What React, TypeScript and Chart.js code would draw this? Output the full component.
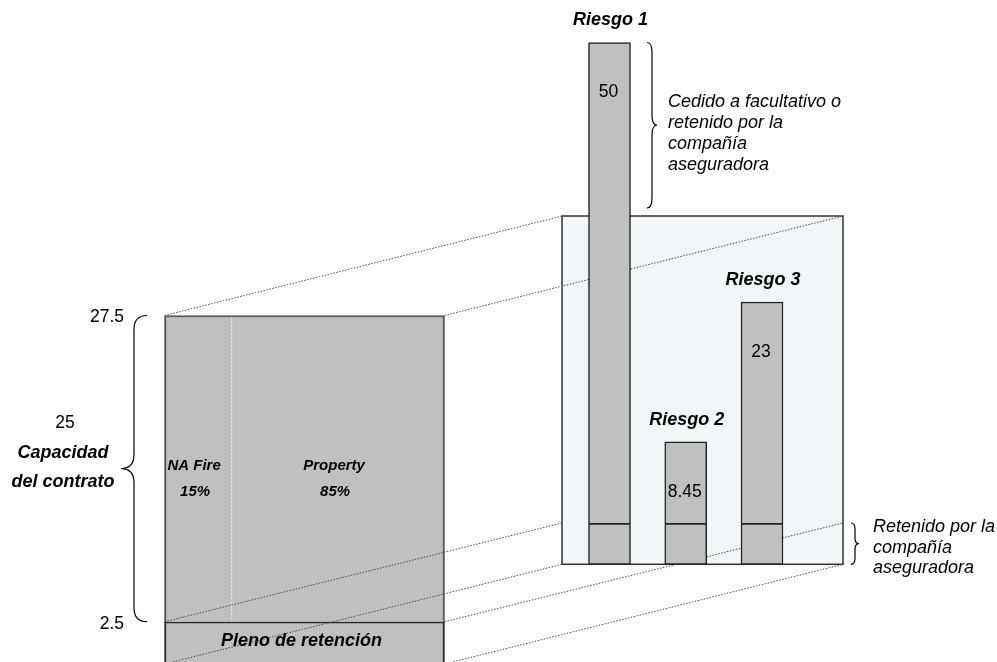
import React, { useEffect, useRef } from 'react';
import { Chart, registerables } from 'chart.js';

Chart.register(...registerables);

// ---- Datos del contrato ----
const PLENO = 2.5; // pleno de retención
const CAPACIDAD = 25; // capacidad del contrato por encima del pleno
const LINEAS = ['NA Fire', 'Property'];
const PARTICIPACION = [15, 85]; // % de cada línea
const MARCAS_EJE = [2.5, 27.5];

// ---- Riesgos ----
const RIESGOS = ['Riesgo 1', 'Riesgo 2', 'Riesgo 3'];
const CEDIDO = [50, 8.45, 23];

// ---- Maquetación ----
const W = 997;
const H = 662;
const FONT = '"Liberation Sans", Arial, Helvetica, sans-serif';
const SLOT_BLOQUE = 0;
const SLOT_RIESGOS = [4, 5, 6];
const GRIS = '#c0c0c0';
const PANEL = { left: 562, right: 843, top: 216, fill: '#f1f6f9' };
const DIVISION_LINEAS = 0.24; // posición del separador dentro del bloque

// Rango (min/max) de una escala lineal que sitúa dos valores en dos píxeles dados
function rango(size: number, pA: number, vA: number, pB: number, vB: number, vertical: boolean) {
  const b = (pB - pA) / (vB - vA);
  const a = pA - b * vA;
  return vertical ? { min: (size - a) / b, max: -a / b } : { min: -a / b, max: (size - a) / b };
}

function llave(ctx: CanvasRenderingContext2D, xEnd: number, xSpine: number, xTip: number, y1: number, y2: number, r: number) {
  const ym = (y1 + y2) / 2;
  ctx.beginPath();
  ctx.moveTo(xEnd, y1);
  ctx.quadraticCurveTo(xSpine, y1, xSpine, y1 + r);
  ctx.lineTo(xSpine, ym - r);
  ctx.quadraticCurveTo(xSpine, ym, xTip, ym);
  ctx.quadraticCurveTo(xSpine, ym, xSpine, ym + r);
  ctx.lineTo(xSpine, y2 - r);
  ctx.quadraticCurveTo(xSpine, y2, xEnd, y2);
  ctx.stroke();
}

function texto(ctx: CanvasRenderingContext2D, t: string, x: number, y: number, font: string, align: CanvasTextAlign = 'center') {
  ctx.font = font;
  ctx.textAlign = align;
  ctx.textBaseline = 'middle';
  ctx.fillStyle = '#000';
  ctx.fillText(t, x, y);
}

const diagrama = {
  id: 'diagrama',
  beforeDatasetsDraw(chart: any) {
    const ctx = chart.ctx as CanvasRenderingContext2D;
    const yRet = chart.scales.yRet;
    const bottom = yRet.getPixelForValue(0);
    ctx.save();
    ctx.fillStyle = PANEL.fill;
    ctx.fillRect(PANEL.left, PANEL.top, PANEL.right - PANEL.left, bottom - PANEL.top);
    ctx.strokeStyle = '#333';
    ctx.lineWidth = 1.5;
    ctx.strokeRect(PANEL.left, PANEL.top, PANEL.right - PANEL.left, bottom - PANEL.top);
    ctx.restore();
  },
  afterDatasetDraw(chart: any, args: any) {
    if (args.index !== 1) return;
    const ctx = chart.ctx as CanvasRenderingContext2D;
    const cap = chart.getDatasetMeta(1).data[0].getProps(['x', 'y', 'base', 'width'], true);
    const ple = chart.getDatasetMeta(0).data[0].getProps(['x', 'y', 'base', 'width'], true);
    const L = cap.x - cap.width / 2;
    const R = cap.x + cap.width / 2;
    const capTop = Math.min(cap.y, cap.base);
    const ret = Math.max(cap.y, cap.base);
    const bot = Math.max(ple.y, ple.base);
    const yRet = chart.scales.yRet;
    const pRet = yRet.getPixelForValue(PLENO);
    const pBot = yRet.getPixelForValue(0);

    ctx.save();
    // separador entre líneas de negocio
    ctx.strokeStyle = '#f6f6f6';
    ctx.lineWidth = 1;
    ctx.setLineDash([2, 2]);
    const xd = L + DIVISION_LINEAS * (R - L);
    ctx.beginPath();
    ctx.moveTo(xd, capTop + 2);
    ctx.lineTo(xd, ret);
    ctx.stroke();

    // líneas de proyección hacia el panel de riesgos
    const lineas: [number, number, number, number][] = [
      [L, capTop, PANEL.left, PANEL.top],
      [R, capTop, PANEL.right, PANEL.top],
      [L, ret, PANEL.left, pRet],
      [R, ret, PANEL.right, pRet],
      [L, bot, PANEL.left, pBot],
      [R, bot, PANEL.right, pBot],
    ];
    ctx.strokeStyle = '#4a4a4a';
    ctx.setLineDash([1.5, 1.5]);
    for (const [x1, y1, x2, y2] of lineas) {
      ctx.beginPath();
      ctx.moveTo(x1, y1);
      ctx.lineTo(x2, y2);
      ctx.stroke();
    }
    ctx.restore();
  },
  afterDatasetsDraw(chart: any) {
    const ctx = chart.ctx as CanvasRenderingContext2D;
    const yCap = chart.scales.yCap;
    const yPleno = chart.scales.yPleno;
    const yRet = chart.scales.yRet;
    const bold = (s: number) => `italic bold ${s}px ${FONT}`;
    const reg = (s: number) => `${s}px ${FONT}`;
    const ital = (s: number) => `italic ${s}px ${FONT}`;
    ctx.save();

    // marcas del eje izquierdo
    MARCAS_EJE.forEach((v) => texto(ctx, String(v), 124, yCap.getPixelForValue(v) + 2, reg(17.5), 'right'));

    // llave de la capacidad
    const yTop = yCap.getPixelForValue(PLENO + CAPACIDAD);
    const yBase = yCap.getPixelForValue(PLENO);
    const yMid = (yTop + yBase) / 2;
    ctx.strokeStyle = '#000';
    ctx.lineWidth = 1.2;
    llave(ctx, 147, 134, 121, yTop, yBase, 14);
    texto(ctx, String(CAPACIDAD), 65, yMid - 45, reg(17.5));
    texto(ctx, 'Capacidad', 63, yMid - 16, bold(18));
    texto(ctx, 'del contrato', 63, yMid + 13, bold(18));

    // líneas de negocio dentro del bloque
    const cap = chart.getDatasetMeta(1).data[0].getProps(['x', 'width'], true);
    const L = cap.x - cap.width / 2;
    const R = cap.x + cap.width / 2;
    const xd = L + DIVISION_LINEAS * (R - L);
    const centros = [(L + xd) / 2, (xd + R) / 2];
    LINEAS.forEach((n, i) => {
      texto(ctx, n, centros[i] - 4, yMid - 3, bold(15));
      texto(ctx, `${PARTICIPACION[i]}%`, centros[i] - 3, yMid + 23, bold(15));
    });

    // pleno de retención
    texto(ctx, 'Pleno de retención', cap.x - 3, yPleno.getPixelForValue(PLENO) + 19, bold(18));

    // riesgos
    const meta = chart.getDatasetMeta(3);
    meta.data.forEach((el: any, i: number) => {
      const p = el.getProps(['x', 'y', 'base'], true);
      const top = Math.min(p.y, p.base);
      texto(ctx, RIESGOS[i], p.x + 1, top - 22, bold(18));
      texto(ctx, String(CEDIDO[i]), p.x - 1, top + 50, reg(17.5));
    });

    // llave de lo cedido a facultativo
    const r1 = meta.data[0].getProps(['x', 'y', 'width'], true);
    const y1 = r1.y;
    const y2 = PANEL.top - 8;
    llave(ctx, 647, 652, 657, y1, y2, 10);
    const ym1 = (y1 + y2) / 2;
    ['Cedido a facultativo o', 'retenido por la', 'compañía', 'aseguradora'].forEach((t, i) =>
      texto(ctx, t, 668, ym1 - 23 + i * 21, ital(18), 'left')
    );

    // llave de lo retenido
    const pRet = yRet.getPixelForValue(PLENO);
    const pBot = yRet.getPixelForValue(0);
    llave(ctx, 851, 855, 859, pRet, pBot, 6);
    ['Retenido por la', 'compañía', 'aseguradora'].forEach((t, i) =>
      texto(ctx, t, 873, pRet + 4 + i * 20.5, ital(18), 'left')
    );

    ctx.restore();
  },
};

export default function App() {
  const ref = useRef<HTMLCanvasElement>(null);

  useEffect(() => {
    const xR = rango(W, 609.5, SLOT_RIESGOS[0], 762, SLOT_RIESGOS[2], false);
    const yCapR = rango(H, 621.7, PLENO, 315.5, PLENO + CAPACIDAD, true);
    const yPlenoR = rango(H, 664, 0, 621.7, PLENO, true);
    const yRetR = rango(H, 564.3, 0, 523, PLENO, true);
    const yCedR = rango(H, 523, PLENO, 42.5, PLENO + CEDIDO[0], true);
    const hidden = { type: 'linear', display: false, offset: false, bounds: 'data' } as const;

    const chart = new Chart(ref.current!, {
      type: 'bar',
      data: {
        datasets: [
          {
            label: 'Pleno de retención',
            yAxisID: 'yPleno',
            data: [{ x: SLOT_BLOQUE, y: [0, PLENO] }] as any,
            barThickness: 280,
            backgroundColor: GRIS,
            borderColor: '#2a2a2a',
            borderWidth: { top: 2, left: 2, right: 2, bottom: 0 },
            borderSkipped: false,
            grouped: false,
            order: 4,
          },
          {
            label: 'Capacidad del contrato',
            yAxisID: 'yCap',
            data: [{ x: SLOT_BLOQUE, y: [PLENO, PLENO + CAPACIDAD] }] as any,
            barThickness: 280,
            backgroundColor: GRIS,
            borderColor: '#555',
            borderWidth: { top: 2, left: 2, right: 2, bottom: 0 },
            borderSkipped: false,
            grouped: false,
            order: 3,
          },
          {
            label: 'Retenido',
            yAxisID: 'yRet',
            data: RIESGOS.map((_, i) => ({ x: SLOT_RIESGOS[i], y: [0, PLENO] })) as any,
            barThickness: 42,
            backgroundColor: GRIS,
            borderColor: '#222',
            borderWidth: { top: 2, left: 1.5, right: 1.5, bottom: 1.5 },
            borderSkipped: false,
            grouped: false,
            order: 2,
          },
          {
            label: 'Cedido',
            yAxisID: 'yCed',
            data: CEDIDO.map((v, i) => ({ x: SLOT_RIESGOS[i], y: [PLENO, PLENO + v] })) as any,
            barThickness: 42,
            backgroundColor: GRIS,
            borderColor: '#222',
            borderWidth: { top: 1.5, left: 1.5, right: 1.5, bottom: 0 },
            borderSkipped: false,
            grouped: false,
            order: 1,
          },
        ],
      },
      options: {
        responsive: false,
        animation: false,
        events: [],
        devicePixelRatio: 1,
        layout: { padding: 0 },
        plugins: { legend: { display: false }, tooltip: { enabled: false }, title: { display: false } },
        scales: {
          x: { ...hidden, ...xR },
          yCap: { ...hidden, ...yCapR },
          yPleno: { ...hidden, ...yPlenoR },
          yRet: { ...hidden, ...yRetR },
          yCed: { ...hidden, ...yCedR },
        } as any,
      },
      plugins: [diagrama],
    });
    return () => chart.destroy();
  }, []);

  return (
    <div style={{ position: 'fixed', left: 0, top: 0, width: W, height: H, background: '#fff' }}>
      <canvas ref={ref} width={W} height={H} style={{ display: 'block', width: W, height: H }} />
    </div>
  );
}
